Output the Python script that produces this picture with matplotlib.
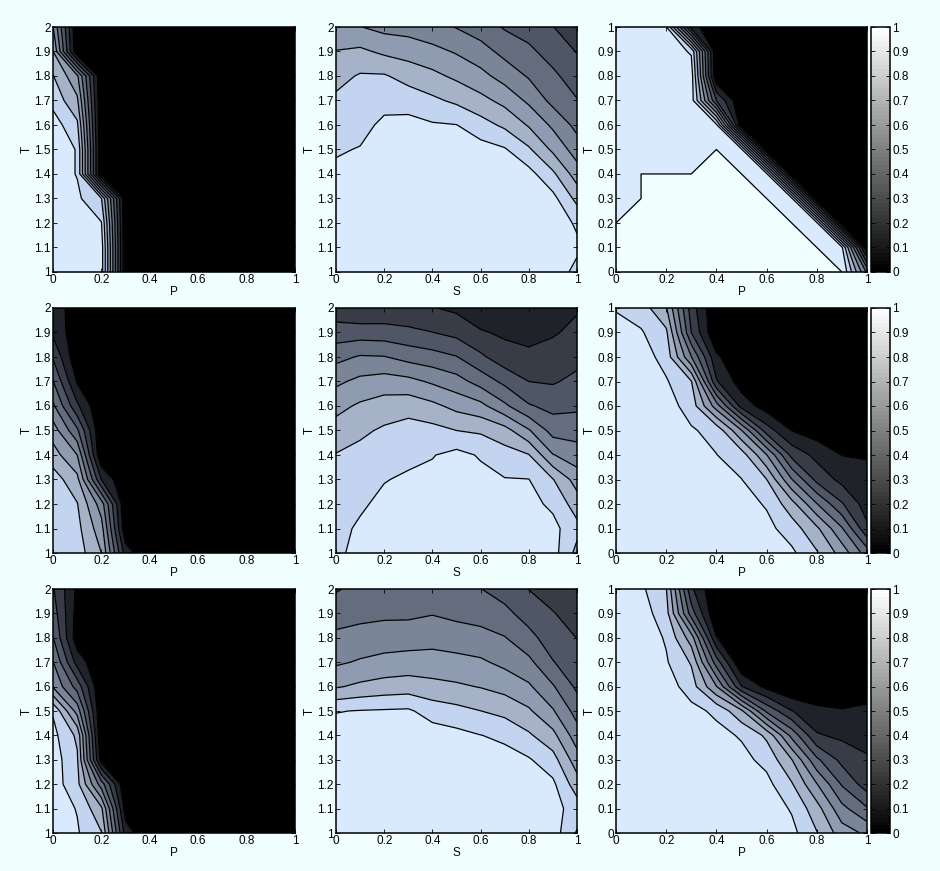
import numpy as np
import matplotlib
matplotlib.use("Agg")
import matplotlib.pyplot as plt
from matplotlib.colors import ListedColormap, Normalize
from matplotlib.cm import ScalarMappable

plt.rcParams['font.family'] = ['Liberation Sans', 'DejaVu Sans']
plt.rcParams['font.size'] = 8.5

BG = '#f0fefe'

# ---------------- data ----------------
x_grid = [0.0, 0.1, 0.2, 0.3, 0.4, 0.5, 0.6, 0.7, 0.8, 0.9, 1.0]
t_high = [1.0, 1.1, 1.2, 1.3, 1.4, 1.5, 1.6, 1.7, 1.8, 1.9, 2.0]
t_low = [0.0, 0.1, 0.2, 0.3, 0.4, 0.5, 0.6, 0.7, 0.8, 0.9, 1.0]

x_ticks = [0, 0.2, 0.4, 0.6, 0.8, 1]
x_ticklabels = ['0', '0.2', '0.4', '0.6', '0.8', '1']
t_high_labels = ['1', '1.1', '1.2', '1.3', '1.4', '1.5', '1.6', '1.7', '1.8', '1.9', '2']
t_low_labels = ['0', '0.1', '0.2', '0.3', '0.4', '0.5', '0.6', '0.7', '0.8', '0.9', '1']
cbar_ticks = [0, 0.1, 0.2, 0.3, 0.4, 0.5, 0.6, 0.7, 0.8, 0.9, 1]

levels = [0, 0.1, 0.2, 0.3, 0.4, 0.5, 0.6, 0.7, 0.8, 0.9, 0.9999]
band_colors = ['#000000', '#1f2229', '#373c47', '#4f5665', '#646d7e',
               '#7a8598', '#8f9bb0', '#a5b2c8', '#c3d4f0', '#d9eafe']

# rows: T = 1.0 ... 2.0 ; columns: P = 0 ... 1
z_row1_p = [
    [.95, .95, .95, 0, 0, 0, 0, 0, 0, 0, 0],
    [.95, .95, .95, 0, 0, 0, 0, 0, 0, 0, 0],
    [.95, .95, .905, 0, 0, 0, 0, 0, 0, 0, 0],
    [.95, .92, .805, 0, 0, 0, 0, 0, 0, 0, 0],
    [.95, .895, 0, 0, 0, 0, 0, 0, 0, 0, 0],
    [.95, .895, 0, 0, 0, 0, 0, 0, 0, 0, 0],
    [.95, .82, 0, 0, 0, 0, 0, 0, 0, 0, 0],
    [.867, .72, 0, 0, 0, 0, 0, 0, 0, 0, 0],
    [.805, .62, 0, 0, 0, 0, 0, 0, 0, 0, 0],
    [.705, 0, 0, 0, 0, 0, 0, 0, 0, 0, 0],
    [.605, 0, 0, 0, 0, 0, 0, 0, 0, 0, 0],
]

# rows: T = 1.0 ... 2.0 ; columns: S = 0 ... 1
z_row1_s = [
    [.97, .97, .97, .97, .97, .97, .97, .97, .97, .96, .87],
    [.97, .97, .97, .97, .97, .97, .97, .97, .97, .96, .92],
    [.97, .97, .97, .97, .97, .97, .97, .97, .97, .96, .885],
    [.97, .97, .97, .97, .97, .97, .97, .97, .96, .93, .77],
    [.92, .94, .97, .97, .97, .96, .96, .95, .935, .82, .65],
    [.89, .905, .95, .95, .95, .93, .94, .91, .815, .68, .55],
    [.85, .87, .92, .93, .91, .902, .84, .78, .69, .58, .47],
    [.82, .85, .87, .86, .82, .78, .73, .67, .58, .47, .405],
    [.765, .81, .81, .76, .725, .68, .63, .56, .49, .42, .35],
    [.705, .72, .68, .66, .63, .59, .54, .47, .42, .36, .295],
    [.605, .603, .57, .56, .53, .495, .45, .39, .36, .302, .25],
]

# rows: T = 0.0 ... 1.0 ; columns: P = 0 ... 1
z_row1_pt = [
    [1, 1, 1, 1, 1, 1, 1, 1, 1, 1, .48],
    [1, 1, 1, 1, 1, 1, 1, 1, 1, .92, 0],
    [1, 1, 1, 1, 1, 1, 1, 1, .92, 0, 0],
    [.95, 1, 1, 1, 1, 1, 1, .92, 0, 0, 0],
    [.95, 1, 1, 1, 1, 1, .92, 0, 0, 0, 0],
    [.95, .95, .95, .95, 1, .92, 0, 0, 0, 0, 0],
    [.95, .95, .95, .95, .92, 0, 0, 0, 0, 0, 0],
    [.95, .95, .95, .95, .3, 0, 0, 0, 0, 0, 0],
    [.95, .95, .95, .95, 0, 0, 0, 0, 0, 0, 0],
    [.95, .95, .95, .89, 0, 0, 0, 0, 0, 0, 0],
    [.95, .95, .91, .15, 0, 0, 0, 0, 0, 0, 0],
]

# rows: T = 1.0 ... 2.0 ; columns: P = 0 ... 1
z_row2_p = [
    [.88, .85, .70, .15, 0, 0, 0, 0, 0, 0, 0],
    [.87, .83, .64, .02, 0, 0, 0, 0, 0, 0, 0],
    [.86, .805, .55, 0, 0, 0, 0, 0, 0, 0, 0],
    [.85, .73, .20, 0, 0, 0, 0, 0, 0, 0, 0],
    [.745, .60, 0, 0, 0, 0, 0, 0, 0, 0, 0],
    [.65, .42, 0, 0, 0, 0, 0, 0, 0, 0, 0],
    [.52, .22, 0, 0, 0, 0, 0, 0, 0, 0, 0],
    [.405, .09, 0, 0, 0, 0, 0, 0, 0, 0, 0],
    [.29, .02, 0, 0, 0, 0, 0, 0, 0, 0, 0],
    [.18, .03, 0, 0, 0, 0, 0, 0, 0, 0, 0],
    [.15, .05, 0, 0, 0, 0, 0, 0, 0, 0, 0],
]

# each inner list is one S column (S = 0 ... 1), values for T = 1.0 ... 2.0
z_row2_s_cols = [
    [.88, .87, .86, .84, .805, .74, .67, .58, .47, .345, .24],
    [.93, .915, .885, .86, .83, .78, .715, .625, .51, .35, .21],
    [.96, .945, .925, .895, .855, .815, .745, .645, .505, .345, .22],
    [.97, .96, .94, .915, .875, .84, .76, .63, .465, .325, .22],
    [.97, .965, .95, .925, .895, .83, .725, .585, .44, .302, .205],
    [.97, .97, .96, .94, .93, .80, .67, .54, .405, .27, .18],
    [.97, .965, .95, .93, .89, .785, .63, .46, .32, .21, .13],
    [.97, .96, .94, .905, .84, .74, .52, .375, .24, .184, .15],
    [.96, .95, .93, .902, .805, .61, .41, .30, .23, .157, .13],
    [.94, .93, .88, .805, .605, .46, .37, .29, .24, .19, .16],
    [.77, .83, .75, .655, .545, .46, .38, .325, .27, .225, .19],
]

# rows: T = 0.0 ... 1.0 ; columns: P = 0 ... 1
z_row2_pt = [
    [.95, .95, .95, .95, .95, .95, .95, .92, .81, .66, .45],
    [.95, .95, .95, .95, .95, .95, .93, .85, .72, .51, .22],
    [.95, .95, .95, .95, .95, .94, .89, .74, .505, .31, .15],
    [.95, .95, .95, .95, .95, .902, .802, .505, .27, .17, .12],
    [.95, .95, .95, .95, .902, .85, .605, .27, .17, .098, .095],
    [.95, .95, .95, .91, .87, .605, .25, .098, .05, .03, 0],
    [.95, .95, .94, .86, .55, .16, .05, 0, 0, 0, 0],
    [.95, .94, .91, .805, .21, .05, 0, 0, 0, 0, 0],
    [.95, .95, .86, .505, .12, 0, 0, 0, 0, 0, 0],
    [.95, .91, .82, .30, 0, 0, 0, 0, 0, 0, 0],
    [.89, .85, .71, .25, 0, 0, 0, 0, 0, 0, 0],
]

# rows: T = 1.0 ... 2.0 ; columns: P = 0 ... 1
z_row3_p = [
    [.95, .91, .805, .15, 0, 0, 0, 0, 0, 0, 0],
    [.95, .895, .72, .05, 0, 0, 0, 0, 0, 0, 0],
    [.95, .83, .45, 0, 0, 0, 0, 0, 0, 0, 0],
    [.95, .815, .05, 0, 0, 0, 0, 0, 0, 0, 0],
    [.93, .78, 0, 0, 0, 0, 0, 0, 0, 0, 0],
    [.89, .56, 0, 0, 0, 0, 0, 0, 0, 0, 0],
    [.59, .36, 0, 0, 0, 0, 0, 0, 0, 0, 0],
    [.505, .16, 0, 0, 0, 0, 0, 0, 0, 0, 0],
    [.405, .04, 0, 0, 0, 0, 0, 0, 0, 0, 0],
    [.35, .06, 0, 0, 0, 0, 0, 0, 0, 0, 0],
    [.31, .08, 0, 0, 0, 0, 0, 0, 0, 0, 0],
]

# each inner list is one S column (S = 0 ... 1), values for T = 1.0 ... 2.0
z_row3_s_cols = [
    [.96, .96, .96, .955, .95, .895, .69, .585, .52, .46, .39],
    [.96, .96, .96, .96, .95, .905, .72, .61, .54, .47, .43],
    [.96, .96, .96, .96, .96, .91, .74, .63, .55, .48, .44],
    [.96, .96, .96, .96, .96, .915, .75, .64, .555, .48, .44],
    [.96, .96, .96, .96, .95, .855, .73, .64, .565, .495, .45],
    [.96, .96, .96, .96, .93, .83, .715, .63, .55, .475, .43],
    [.96, .96, .96, .95, .902, .801, .695, .615, .535, .46, .402],
    [.96, .96, .95, .935, .88, .77, .665, .575, .505, .425, .36],
    [.96, .95, .935, .91, .815, .715, .615, .525, .43, .36, .298],
    [.95, .94, .92, .84, .73, .61, .51, .405, .35, .305, .26],
    [.79, .85, .745, .645, .545, .46, .38, .34, .298, .26, .23],
]

# rows: T = 0.0 ... 1.0 ; columns: P = 0 ... 1
z_row3_pt = [
    [.96, .96, .96, .96, .96, .96, .96, .93, .805, .65, .58],
    [.96, .96, .96, .96, .96, .96, .96, .89, .74, .53, .41],
    [.96, .96, .96, .96, .96, .96, .93, .81, .605, .39, .25],
    [.96, .96, .96, .96, .96, .93, .87, .705, .42, .27, .21],
    [.96, .96, .96, .96, .93, .89, .78, .47, .21, .18, .17],
    [.96, .96, .96, .93, .88, .72, .38, .205, .13, .11, .12],
    [.96, .96, .95, .85, .605, .205, .07, 0, 0, 0, .05],
    [.96, .96, .91, .79, .35, 0, 0, 0, 0, 0, 0],
    [.96, .96, .89, .65, .105, 0, 0, 0, 0, 0, 0],
    [.96, .95, .84, .35, 0, 0, 0, 0, 0, 0, 0],
    [.96, .92, .805, .22, 0, 0, 0, 0, 0, 0, 0],
]

# ---------------- layout ----------------
W, H = 940, 871
col_px = [(53, 295), (336, 577), (616, 867)]
row_px = [(27, 272), (308, 553), (589, 833)]
cbar_px = (871, 890)

fig = plt.figure(figsize=(W / 100, H / 100), dpi=100, facecolor=BG)


def frac_box(xl, xr, yt, yb):
    return [xl / W, 1 - yb / H, (xr - xl) / W, (yb - yt) / H]


panels = [
    [(np.array(z_row1_p), t_high, t_high_labels, 'P'),
     (np.array(z_row1_s), t_high, t_high_labels, 'S'),
     (np.array(z_row1_pt), t_low, t_low_labels, 'P')],
    [(np.array(z_row2_p), t_high, t_high_labels, 'P'),
     (np.array(z_row2_s_cols).T, t_high, t_high_labels, 'S'),
     (np.array(z_row2_pt), t_low, t_low_labels, 'P')],
    [(np.array(z_row3_p), t_high, t_high_labels, 'P'),
     (np.array(z_row3_s_cols).T, t_high, t_high_labels, 'S'),
     (np.array(z_row3_pt), t_low, t_low_labels, 'P')],
]

gray64 = ListedColormap(plt.cm.gray(np.linspace(0, 1, 64)))

for r, row in enumerate(panels):
    yt, yb = row_px[r]
    for c, (Z, tg, tlabels, xlab) in enumerate(row):
        xl, xr = col_px[c]
        ax = fig.add_axes(frac_box(xl, xr, yt, yb))
        ax.set_facecolor(BG)
        ax.contourf(x_grid, tg, Z, levels=levels, colors=band_colors)
        ax.contour(x_grid, tg, Z, levels=levels[1:], colors='k',
                   linewidths=0.9)
        ax.set_xlim(0, 1)
        ax.set_ylim(tg[0], tg[-1])
        ax.set_xticks(x_ticks)
        ax.set_xticklabels(x_ticklabels)
        ax.set_yticks(tg)
        ax.set_yticklabels(tlabels)
        ax.tick_params(direction='in', top=True, right=True, length=3,
                       width=0.6, pad=1.5, labelsize=8.5)
        for sp in ax.spines.values():
            sp.set_linewidth(1.1)
        ax.set_xlabel(xlab, fontsize=8.5, labelpad=0)
        ax.set_ylabel('T', fontsize=8.5, labelpad=1)

    cax = fig.add_axes(frac_box(cbar_px[0], cbar_px[1], yt, yb))
    cb = fig.colorbar(ScalarMappable(norm=Normalize(0, 1), cmap=gray64),
                      cax=cax, ticks=cbar_ticks)
    cb.ax.set_yticklabels(t_low_labels)
    cb.outline.set_linewidth(1.1)
    cax.tick_params(direction='in', left=True, right=True, length=3,
                    width=0.6, pad=1.5, labelsize=8.5)

fig.savefig('out.png', dpi=100, facecolor=BG)
